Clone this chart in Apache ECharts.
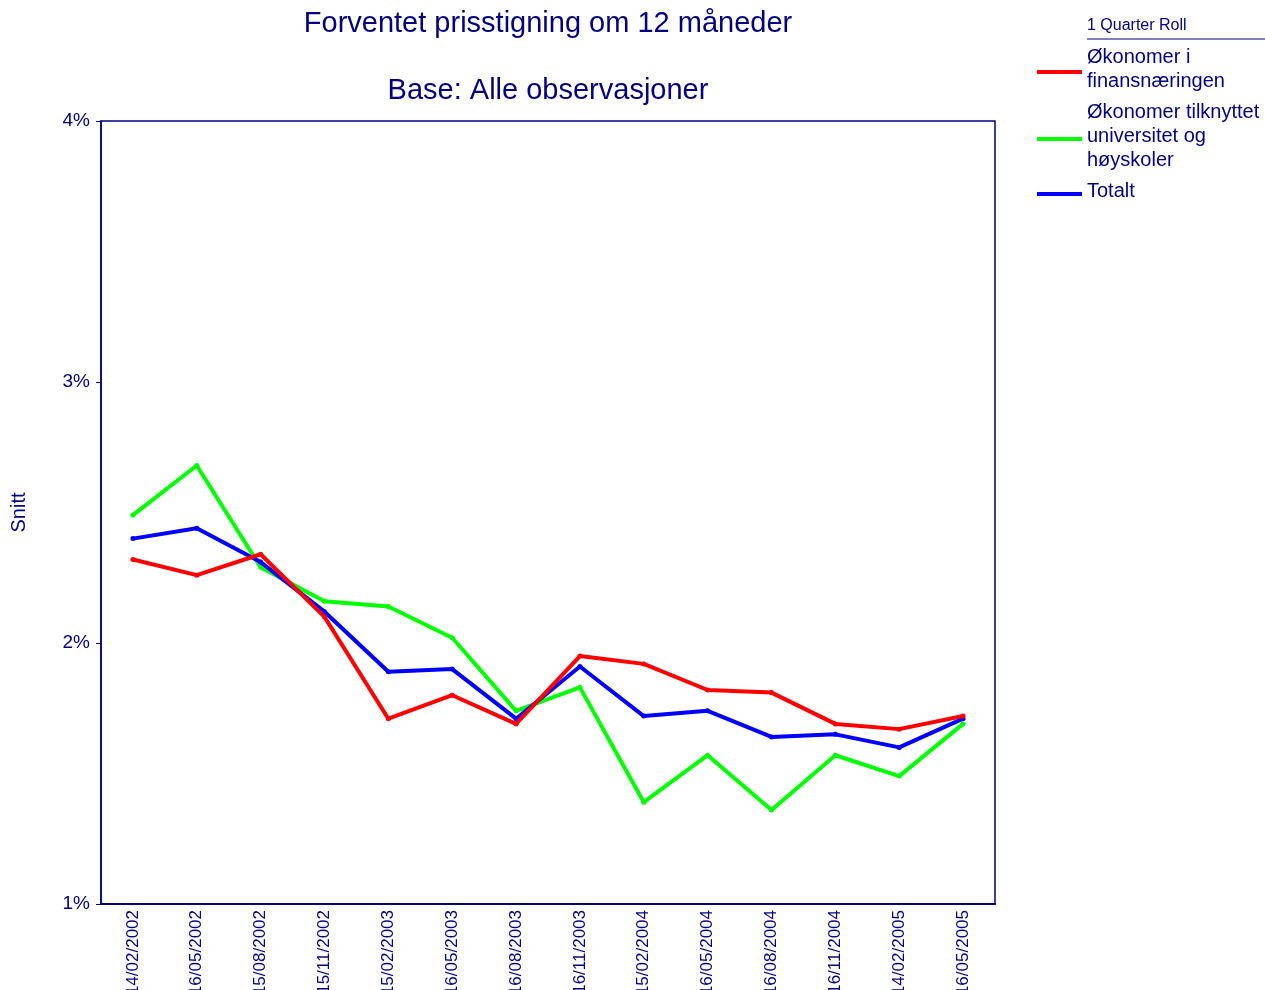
<!DOCTYPE html>
<html>
<head>
<meta charset="utf-8">
<script src="https://cdn.jsdelivr.net/npm/echarts@6/dist/echarts.min.js"></script>
<style>html,body{margin:0;padding:0;background:#fff}#c{width:1265px;height:990px}</style>
</head>
<body>
<div id="c"></div>
<script>
const categories = ['14/02/2002','16/05/2002','15/08/2002','15/11/2002','15/02/2003','16/05/2003','16/08/2003','16/11/2003','15/02/2004','16/05/2004','16/08/2004','16/11/2004','14/02/2005','16/05/2005'];
const finans = [2.32, 2.26, 2.34, 2.10, 1.71, 1.80, 1.69, 1.95, 1.92, 1.82, 1.81, 1.69, 1.67, 1.72];
const universitet = [2.49, 2.68, 2.29, 2.16, 2.14, 2.02, 1.74, 1.83, 1.39, 1.57, 1.36, 1.57, 1.49, 1.69];
const totalt = [2.40, 2.44, 2.31, 2.12, 1.89, 1.90, 1.71, 1.91, 1.72, 1.74, 1.64, 1.65, 1.60, 1.71];
const yTicks = { min: 1, max: 4, interval: 1 };
const names = ['Økonomer i\nfinansnæringen', 'Økonomer tilknyttet\nuniversitet og\nhøyskoler', 'Totalt'];

const navy = '#000080';
const font = 'Liberation Sans, Arial, sans-serif';
const chart = echarts.init(document.getElementById('c'));
function line(name, data, color, z) {
  return { name, type: 'line', data, z, symbol: 'circle', symbolSize: 5,
    itemStyle: { color }, lineStyle: { color, width: 4 }, emphasis: { disabled: true }, animation: false };
}
chart.setOption({
  animation: false,
  grid: { left: 101, right: 270, top: 121, bottom: 86, outerBoundsMode: 'none', containLabel: false,
    show: true, borderColor: navy, borderWidth: 1.5, backgroundColor: '#fff' },
  legend: {
    orient: 'vertical', left: 1037, top: 45, padding: 0, itemWidth: 45, itemHeight: 10, itemGap: 7,
    icon: 'path://M0,0L0.01,0L0.01,0.01Z M0,6L45,6L45,10L0,10Z', selectedMode: false,
    data: names,
    textStyle: { color: navy, fontFamily: font, fontSize: 20, lineHeight: 24 }
  },
  graphic: [
    { type: 'text', style: { x: 548, y: 24, text: 'Forventet prisstigning om 12 måneder', fill: navy, font: '29px ' + font, align: 'center', verticalAlign: 'middle' } },
    { type: 'text', style: { x: 548, y: 91, text: 'Base: Alle observasjoner', fill: navy, font: '29px ' + font, align: 'center', verticalAlign: 'middle' } },
    { type: 'text', style: { x: 1087, y: 26, text: '1 Quarter Roll', fill: navy, font: '16px ' + font, align: 'left', verticalAlign: 'middle' } },
    { type: 'line', shape: { x1: 1087, y1: 39, x2: 1265, y2: 39 }, style: { stroke: navy, lineWidth: 1.2 } }
  ],
  xAxis: {
    type: 'category', data: categories, boundaryGap: true,
    axisLine: { lineStyle: { color: navy, width: 2 } },
    axisTick: { alignWithLabel: true, length: 4, lineStyle: { color: navy } },
    axisLabel: { rotate: 90, interval: 0, margin: 6, color: navy, fontFamily: font, fontSize: 17 }
  },
  yAxis: {
    type: 'value', min: yTicks.min, max: yTicks.max, interval: yTicks.interval,
    name: 'Snitt', nameLocation: 'middle', nameGap: 72, nameRotate: 90,
    nameTextStyle: { color: navy, fontFamily: font, fontSize: 20 },
    axisLine: { show: true, lineStyle: { color: navy, width: 1.5 } },
    axisTick: { show: true, length: 5, lineStyle: { color: navy } },
    splitLine: { show: false },
    axisLabel: { formatter: '{value}%', margin: 11, color: navy, fontFamily: font, fontSize: 19 }
  },
  series: [
    line(names[1], universitet, '#00ff00', 2),
    line(names[2], totalt, '#0000ff', 3),
    line(names[0], finans, '#ff0000', 4)
  ]
});
</script>
</body>
</html>
